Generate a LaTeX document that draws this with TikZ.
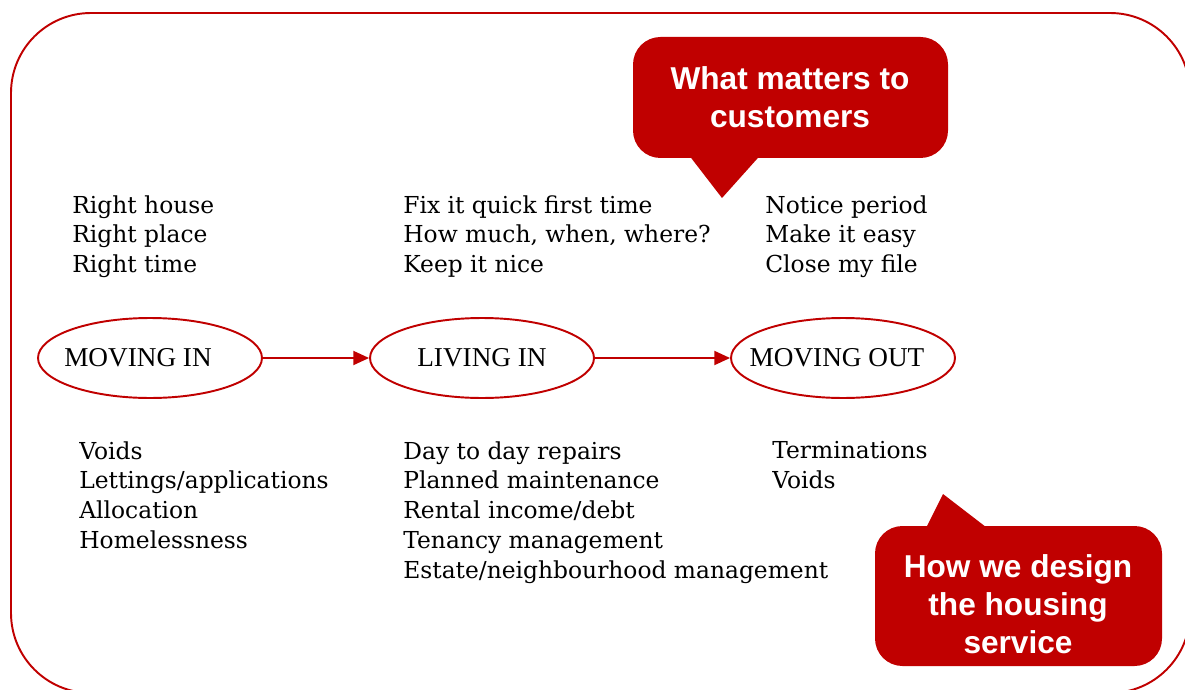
\documentclass[tikz,border=0pt]{standalone}
\usepackage{fontspec}
\setmainfont{DejaVu Serif}
\newfontfamily\stagefont{Liberation Serif}
\newfontfamily\calloutfont{Liberation Sans}
\usepackage{tikz}
\usetikzlibrary{shapes.geometric,arrows.meta}
\definecolor{housered}{RGB}{192,0,0}

\tikzset{
  stage/.style={ellipse,draw=housered,line width=1.1pt,minimum width=4.48cm,minimum height=1.6cm,inner xsep=-0.5cm,inner ysep=0pt,font=\stagefont\fontsize{15.5}{18}\selectfont},
  listtext/.style={anchor=north west,inner sep=0pt,align=left,font=\fontsize{13.3}{17}\selectfont},
  callout/.style={text=white,align=center,font=\calloutfont\bfseries\fontsize{18}{21.5}\selectfont},
  flow/.style={housered,line width=1.1pt,-{Triangle[length=9pt,width=8pt]}}
}

\begin{document}
\begin{tikzpicture}[x=0.02cm,y=-0.02cm]
\useasboundingbox (0,0) rectangle (1185,689);
\clip (0,0) rectangle (1185,689);

% Outer frame
\draw[housered,line width=1.1pt,rounded corners=1.6cm] (11,13) rectangle (1190,693);

% Tenancy stages (text sits a little left of centre)
\node[stage] (movein) at (150,358) {MOVING IN\hspace*{0.48cm}};
\node[stage] (livein) at (482,358) {LIVING IN};
\node[stage] (moveout) at (843,358) {MOVING OUT\hspace*{0.24cm}};
\draw[flow] (movein) -- (livein);
\draw[flow] (livein) -- (moveout);

% What customers want at each stage
\node[listtext] (wantin) at (72,195) {Right house\\Right place\\Right time};
\node[listtext] (wantliving) at (403,195) {Fix it quick first time\\How much, when, where?\\Keep it nice};
\node[listtext] (wantout) at (765,195) {Notice period\\Make it easy\\Close my file};

% Services behind each stage
\node[listtext] (servin) at (79,441) {Voids\\Lettings/applications\\Allocation\\Homelessness};
\node[listtext] (servliving) at (403,441) {Day to day repairs\\Planned maintenance\\Rental income/debt\\Tenancy management\\Estate/neighbourhood management};
\node[listtext] (servout) at (772,441) {Terminations\\Voids};

% Callouts
\fill[housered,rounded corners=0.55cm] (633,37) rectangle (948,158);
\fill[housered] (685,150) -- (722,198) -- (765,150) -- cycle;
\node[callout] (matters) at (790,97) {What matters to\\customers};

\fill[housered,rounded corners=0.55cm] (875,526) rectangle (1162,666);
\fill[housered] (923,534) -- (943,494) -- (995,534) -- cycle;
\node[callout] (design) at (1018,604) {How we design\\the housing\\service};
\end{tikzpicture}
\end{document}
